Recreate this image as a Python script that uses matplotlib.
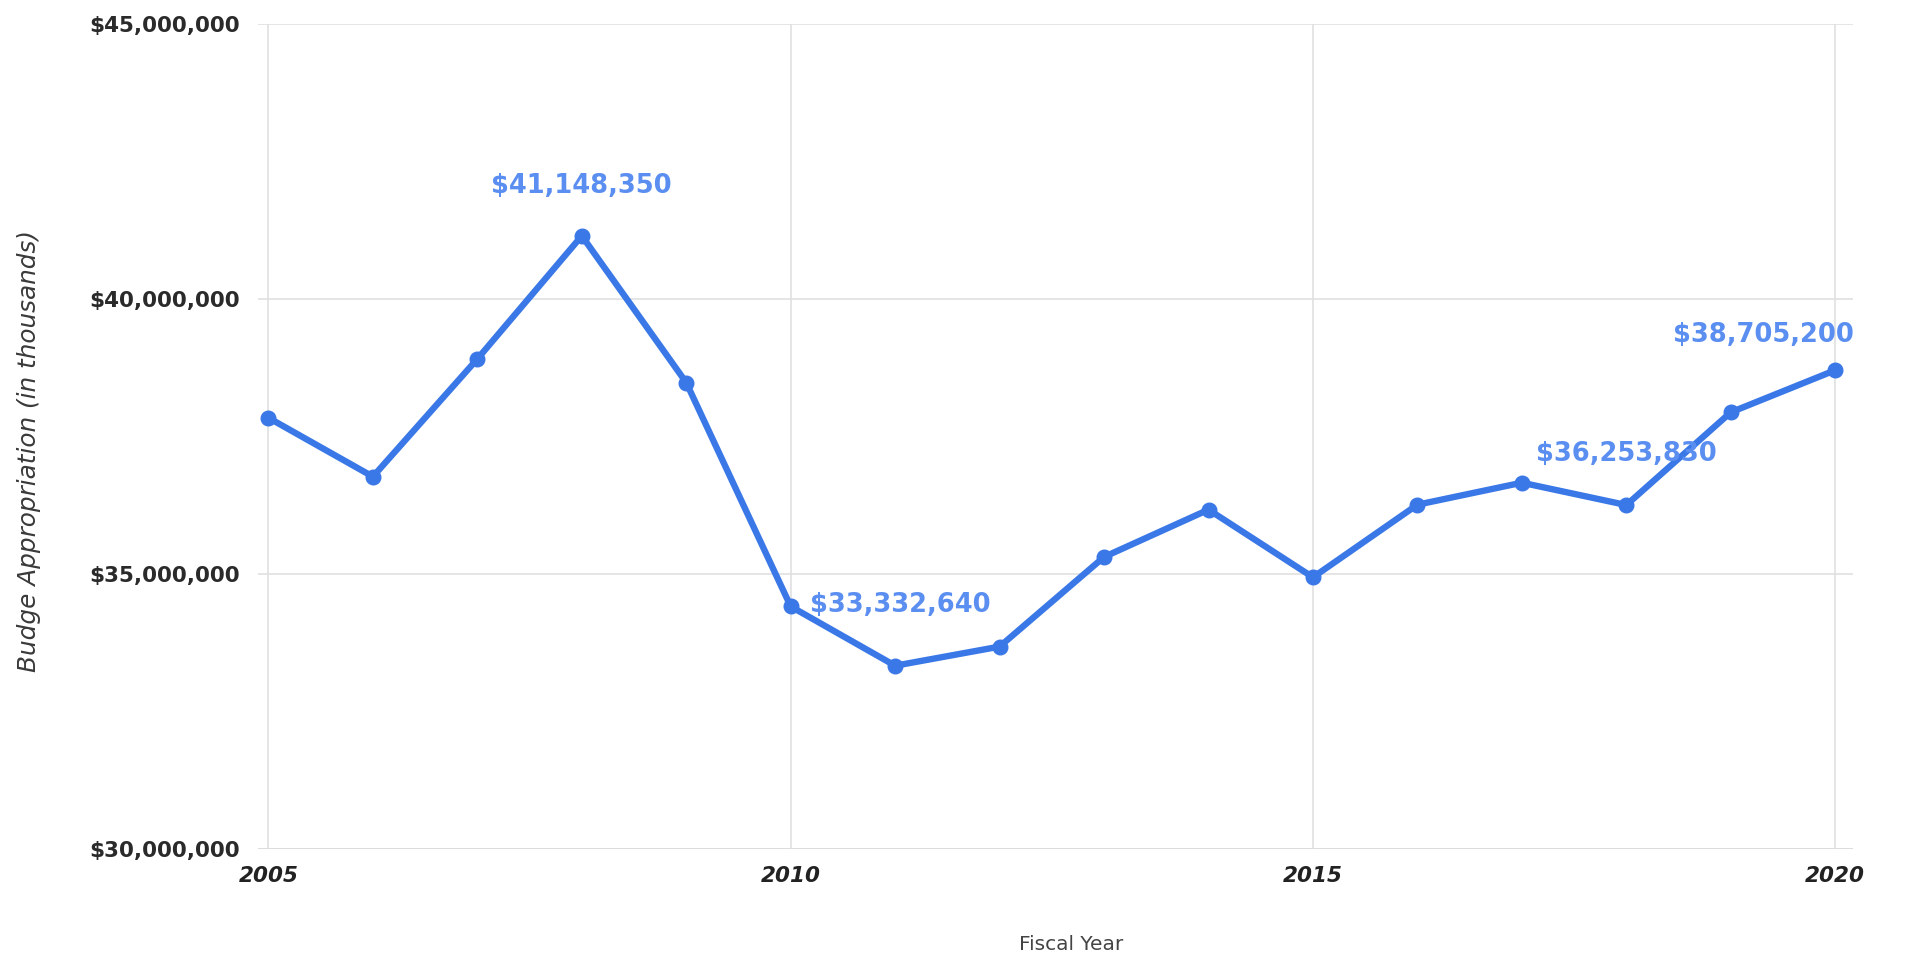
import matplotlib.pyplot as plt
from matplotlib.ticker import FuncFormatter

# Budget appropriation per fiscal year
years = [2005, 2006, 2007, 2008, 2009, 2010, 2011, 2012,
         2013, 2014, 2015, 2016, 2017, 2018, 2019, 2020]
budget = [37840000, 36770000, 38910000, 41148350, 38480000, 34410000,
          33332640, 33680000, 35310000, 36170000, 34940000, 36260000,
          36660000, 36253830, 37940000, 38705200]

# years that get a value label, with label offsets in pixels
labelled = [2008, 2011, 2018, 2020]
label_offsets = [(0, 50), (5, 61), (0, 51), (-72, 35)]

y_ticks = [30000000, 35000000, 40000000, 45000000]
x_ticks = [2005, 2010, 2015, 2020]

line_color = '#3b78e7'
label_color = '#5a8ef0'

fig = plt.figure(figsize=(19.09, 9.66), dpi=100)
ax = fig.add_axes([258 / 1909, 1 - 849 / 966, (1853 - 258) / 1909, (849 - 24) / 966])

ax.plot(years, budget, color=line_color, lw=4.6, marker='o', ms=10.5,
        solid_joinstyle='round', zorder=3, clip_on=False)

for yr, (dx, dy) in zip(labelled, label_offsets):
    val = budget[years.index(yr)]
    ax.annotate('${:,}'.format(val), (yr, val), xytext=(dx, dy),
                textcoords='offset pixels', ha='center', va='center',
                color=label_color, fontsize=18.5, fontweight='bold',
                family='DejaVu Sans', zorder=4)

ax.set_xlim(2004.9, 2020.17)
ax.set_ylim(30000000, 45000000)
ax.set_xticks(x_ticks)
ax.set_yticks(y_ticks)
ax.yaxis.set_major_formatter(FuncFormatter(lambda v, p: '${:,.0f}'.format(v)))

for s in ax.spines.values():
    s.set_visible(False)
ax.grid(True, color='#e0e0e0', lw=1.2, zorder=0)
ax.axhline(30000000, color='#c8c8c8', lw=2, zorder=1)
ax.tick_params(length=0)
ax.tick_params(axis='y', pad=13, labelsize=15.5, labelcolor='#2a2a2a')
ax.tick_params(axis='x', pad=12, labelsize=15.5, labelcolor='#222222')
for t in ax.get_yticklabels():
    t.set_fontweight('bold')
for t in ax.get_xticklabels():
    t.set_fontstyle('italic')
    t.set_fontweight('bold')

fig.text(29 / 1909, 1 - 451 / 966, 'Budge Appropriation (in thousands)',
         rotation=90, ha='center', va='center', fontsize=17.8,
         style='italic', color='#3a3a3a')
fig.text(1071 / 1909, 1 - 944 / 966, 'Fiscal Year', ha='center',
         va='center', fontsize=14.5, color='#444444')

fig.savefig('out.png', dpi=100, facecolor='white')
